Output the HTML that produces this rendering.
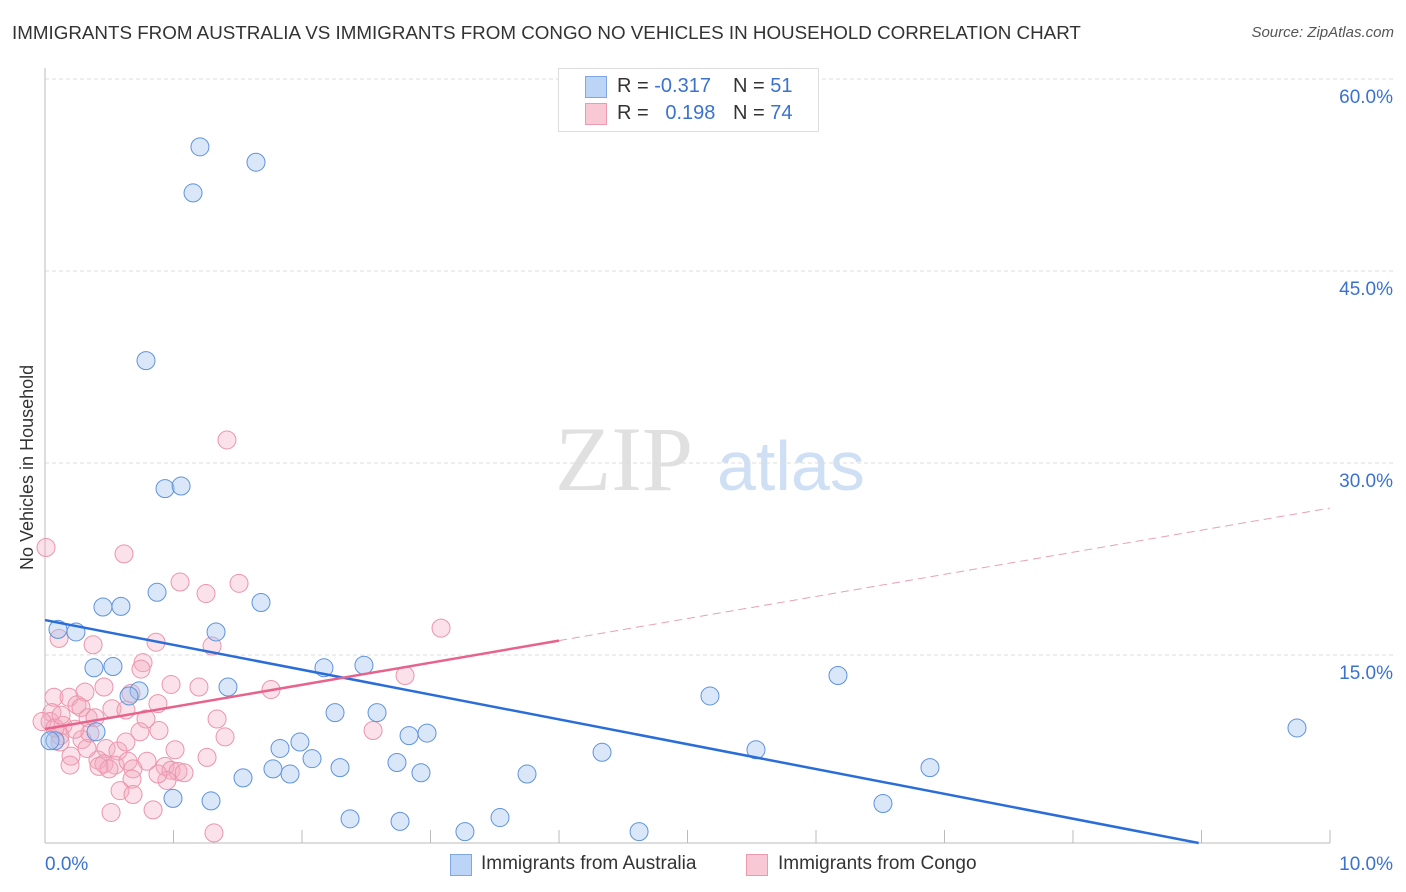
<!DOCTYPE html>
<html><head><meta charset="utf-8"><style>
body{margin:0;background:#fff;font-family:"Liberation Sans",sans-serif;}
#wrap{position:relative;width:1406px;height:892px;overflow:hidden;}
.t{position:absolute;white-space:nowrap;}
</style></head><body>
<div id="wrap">
<div class="t" style="left:12px;top:22px;font-size:18.8px;color:#333;">IMMIGRANTS FROM AUSTRALIA VS IMMIGRANTS FROM CONGO NO VEHICLES IN HOUSEHOLD CORRELATION CHART</div>
<div class="t" style="right:12px;top:24px;font-size:15px;color:#555;font-style:italic;">Source: ZipAtlas.com</div>
<div class="t" style="left:17px;top:570px;transform:rotate(-90deg);transform-origin:0 0;font-size:18px;color:#333;">No Vehicles in Household</div>
<svg id="svg" width="1406" height="892" style="position:absolute;left:0;top:0"></svg>
<div style="position:absolute;left:558px;top:68px;width:259px;height:62px;border:1px solid #ddd;background:#fff;font-size:20px;">
 <div style="position:absolute;left:26px;top:7px;width:20px;height:20px;background:#bcd4f5;border:1px solid #7ea7e3;"></div>
 <div class="t" style="left:58px;top:6px;color:#333">R = <span style="color:#3a72d0">-0.317</span></div>
 <div class="t" style="left:174px;top:6px;color:#333">N = <span style="color:#3a72d0">51</span></div>
 <div style="position:absolute;left:26px;top:34px;width:20px;height:20px;background:#f8c8d5;border:1px solid #eb9ab0;"></div>
 <div class="t" style="left:58px;top:33px;color:#333">R = &nbsp;&nbsp;<span style="color:#3a72d0">0.198</span></div>
 <div class="t" style="left:174px;top:33px;color:#333">N = <span style="color:#3a72d0">74</span></div>
</div>
<div style="position:absolute;left:450px;top:854px;width:20px;height:20px;background:#bcd4f5;border:1px solid #7ea7e3;"></div>
<div class="t" style="left:481px;top:853px;font-size:19px;color:#333">Immigrants from Australia</div>
<div style="position:absolute;left:746px;top:854px;width:20px;height:20px;background:#f8c8d5;border:1px solid #eb9ab0;"></div>
<div class="t" style="left:778px;top:853px;font-size:19px;color:#333">Immigrants from Congo</div>
</div>
<script>
const yTicks=[15,30,45,60];
const yTickLabels=["15.0%","30.0%","45.0%","60.0%"];
const xTicks=[0,1,2,3,4,5,6,7,8,9,10];
const xEndLabels=["0.0%","10.0%"];
const ausX=[1.206,1.642,1.152,0.786,0.934,1.059,0.872,0.451,0.591,1.681,1.331,0.101,0.241,0.381,0.529,2.171,2.482,1.424,0.732,0.654,6.171,5.175,2.257,2.584,9.743,0.397,0.078,2.973,2.833,1.984,1.829,4.335,5.533,2.078,1.541,1.774,1.907,2.296,2.739,2.926,3.751,6.887,0.996,1.292,6.521,2.374,2.763,3.541,3.268,4.623,0.039];
const ausY=[54.7,53.5,51.1,38.0,28.0,28.2,19.9,18.75,18.8,19.1,16.8,17.0,16.8,14.0,14.1,14.0,14.2,12.5,12.2,11.8,13.4,11.8,10.5,10.5,9.3,9.0,8.3,8.9,8.7,8.2,7.7,7.4,7.6,6.9,5.4,6.1,5.7,6.2,6.6,5.8,5.7,6.2,3.8,3.6,3.4,2.2,2.0,2.3,1.2,1.2,8.3];
const conX=[0.008,0.615,1.416,1.051,1.51,1.253,3.082,0.109,0.374,0.864,1.3,0.763,0.747,2.802,1.759,0.459,0.981,1.198,0.070,0.311,0.187,0.669,0.249,0.280,0.335,0.521,0.630,0.879,1.339,0.054,0.039,0.140,0.389,0.786,0.887,2.553,0.117,0.288,0.475,0.568,1.012,1.401,0.202,0.195,0.412,0.459,0.545,0.646,0.794,0.934,0.981,1.035,1.261,0.327,0.685,0.420,0.498,0.949,0.677,0.584,0.685,0.841,0.514,1.315,-0.023,0.078,0.350,0.739,0.117,0.630,1.082,0.879,0.233,0.125];
const conY=[23.4,22.9,31.8,20.7,20.6,19.8,17.1,16.3,15.8,16.0,15.7,14.4,13.9,13.4,12.3,12.5,12.7,12.5,11.7,12.1,11.7,12.0,11.1,10.9,10.1,10.8,10.7,11.2,10.0,10.5,9.8,9.5,10.1,10.0,9.1,9.1,8.7,8.4,7.7,7.5,7.6,8.6,7.1,6.4,6.8,6.5,6.4,6.7,6.7,6.3,6.0,5.9,7.0,7.7,6.1,6.3,6.1,5.2,5.3,4.4,4.1,2.9,2.7,1.1,9.8,9.3,8.9,9.0,8.2,8.2,5.8,5.7,9.2,10.3];
const ausLine=[17.73,-1.94];   // intercept, slope
const conLine=[9.22,1.726];
const conSolidEnd=4.0;

const svg=document.getElementById('svg');const NS='http://www.w3.org/2000/svg';
const X0=45,X1=1330,Y0=847,PY=12.8;
const sx=v=>X0+(X1-X0)*v/10, sy=v=>Y0-v*PY;
function mk(tag,at){const e=document.createElementNS(NS,tag);for(const k in at)e.setAttribute(k,at[k]);svg.appendChild(e);return e;}
let w=mk('text',{x:555,y:490,'font-size':92,'font-family':'Liberation Serif,serif',fill:'#e0e0e0'});w.textContent='ZIP';


w=mk('text',{x:717,y:490,'font-size':70,'font-family':'Liberation Sans,sans-serif',fill:'#cfe0f5'});w.textContent='atlas';


yTicks.forEach((v,i)=>{
 const g=mk('line',{x1:X0,x2:1393,y1:sy(v),y2:sy(v),stroke:'#ddd','stroke-dasharray':'4,3'});
 
 
 const t=mk('text',{x:1393,y:sy(v)+24,'text-anchor':'end','font-size':19,fill:'#3a72d0','font-family':'Liberation Sans,sans-serif'});t.textContent=yTickLabels[i];
 
 
});
let a=mk('line',{x1:X0,x2:X0,y1:68,y2:843,stroke:'#bbb'});


a=mk('line',{x1:X0,x2:X1,y1:843,y2:843,stroke:'#bbb'});


xTicks.forEach(v=>{const t=mk('line',{x1:sx(v),x2:sx(v),y1:830,y2:843,stroke:'#bbb'});
 
 });
[[0,'start',45],[10,'end',1393]].forEach((d,i)=>{const t=mk('text',{x:d[2],y:870,'text-anchor':d[1],'font-size':19,fill:'#3a72d0','font-family':'Liberation Sans,sans-serif'});t.textContent=xEndLabels[i];
 
 });
conX.forEach((x,i)=>{const c=mk('circle',{cx:sx(x),cy:sy(conY[i]),r:9,fill:'rgba(244,170,192,0.35)',stroke:'#eb95ad','stroke-width':1});
 
 });
ausX.forEach((x,i)=>{const c=mk('circle',{cx:sx(x),cy:sy(ausY[i]),r:9,fill:'rgba(160,196,240,0.4)',stroke:'#5f93dc','stroke-width':1});
 
 });
const yEnd=(Y0-843)/PY;
const ax2=(yEnd-ausLine[0])/ausLine[1];
let l=mk('line',{x1:sx(0),y1:sy(ausLine[0]),x2:sx(ax2),y2:sy(yEnd),stroke:'#2a6dd8','stroke-width':2.5});


l=mk('line',{x1:sx(0),y1:sy(conLine[0]),x2:sx(conSolidEnd),y2:sy(conLine[0]+conLine[1]*conSolidEnd),stroke:'#e8638c','stroke-width':2.5});


l=mk('line',{x1:sx(conSolidEnd),y1:sy(conLine[0]+conLine[1]*conSolidEnd),x2:sx(10),y2:sy(conLine[0]+conLine[1]*10),stroke:'#e8a0b5','stroke-width':1,'stroke-dasharray':'8,5'});


</script>
</body></html>
